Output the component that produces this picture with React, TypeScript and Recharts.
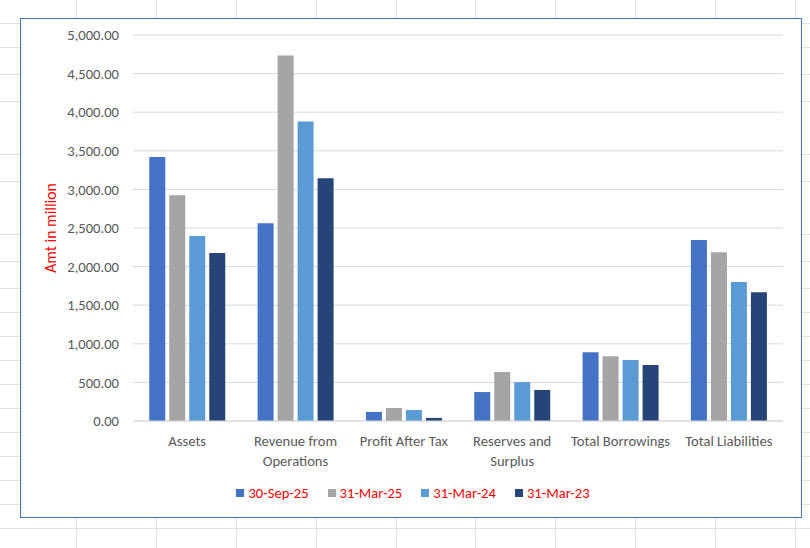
import React from "react";
import { BarChart, Bar, XAxis, YAxis, CartesianGrid, Legend, Label } from "recharts";

// Financial highlights by period (Amt in million)
const categories = [
  "Assets",
  "Revenue from Operations",
  "Profit After Tax",
  "Reserves and Surplus",
  "Total Borrowings",
  "Total Liabilities",
];
const sep25 = [3420, 2560, 118, 375, 892, 2345];
const mar25 = [2925, 4735, 168, 634, 840, 2185];
const mar24 = [2395, 3880, 142, 504, 790, 1800];
const mar23 = [2175, 3145, 40, 402, 724, 1668];
const yTicks = [0, 500, 1000, 1500, 2000, 2500, 3000, 3500, 4000, 4500, 5000];

const series = [
  { key: "30-Sep-25", values: sep25, color: "#4472C4" },
  { key: "31-Mar-25", values: mar25, color: "#A5A5A5" },
  { key: "31-Mar-24", values: mar24, color: "#5B9BD5" },
  { key: "31-Mar-23", values: mar23, color: "#264478" },
];

const data = categories.map((name, i) => {
  const row: Record<string, string | number> = { name };
  series.forEach((s) => {
    row[s.key] = s.values[i];
  });
  return row;
});

// worksheet cell borders behind the chart object
const sheetCols = [76, 156, 236, 316, 396, 475, 555, 635, 715, 795];
const sheetRows = [23, 47, 74, 101, 154, 181, 234, 261, 288, 312, 336, 360, 384, 408, 432, 456, 480, 504, 528];

const FONT = "Calibri, Carlito, Lato, 'Liberation Sans', sans-serif";

const fmt = (v: number) =>
  v.toLocaleString("en-US", { minimumFractionDigits: 2, maximumFractionDigits: 2 });

const wrapWords = (text: string, maxChars: number) => {
  const words = text.split(" ");
  const lines: string[] = [];
  let cur = "";
  words.forEach((w) => {
    const next = cur ? cur + " " + w : w;
    if (next.length > maxChars && cur) {
      lines.push(cur);
      cur = w;
    } else {
      cur = next;
    }
  });
  if (cur) lines.push(cur);
  return lines;
};

const CategoryTick = (props: any) => {
  const { x, y, payload } = props;
  const lines = wrapWords(String(payload.value), 17);
  return (
    <g transform={`translate(${x},${y})`}>
      {lines.map((ln, i) => (
        <text
          key={i}
          x={0}
          y={17 + i * 19.5}
          textAnchor="middle"
          fill="#595959"
          fontSize={14.6}
          fontFamily={FONT}
        >
          {ln}
        </text>
      ))}
    </g>
  );
};

const LegendContent = () => (
  <div
    style={{
      display: "flex",
      justifyContent: "center",
      alignItems: "center",
      paddingLeft: 22,
      fontFamily: FONT,
      fontSize: 14.6,
      color: "#FF0000",
    }}
  >
    {series.map((s) => (
      <div key={s.key} style={{ display: "flex", alignItems: "center", margin: "0 9.5px" }}>
        <span
          style={{
            display: "inline-block",
            width: 8,
            height: 8,
            background: s.color,
            marginRight: 4,
          }}
        />
        <span>{s.key}</span>
      </div>
    ))}
  </div>
);

export default function App() {
  return (
    <div
      style={{
        position: "absolute",
        left: 0,
        top: 0,
        width: 810,
        height: 548,
        background: "#FFFFFF",
        overflow: "hidden",
      }}
    >
      {sheetCols.map((x) => (
        <div
          key={"c" + x}
          style={{ position: "absolute", left: x, top: 0, width: 1, height: 548, background: "#E1E1E1" }}
        />
      ))}
      {sheetRows.map((y) => (
        <div
          key={"r" + y}
          style={{ position: "absolute", left: 0, top: y, width: 810, height: 1, background: "#E1E1E1" }}
        />
      ))}
      <div
        style={{
          position: "absolute",
          left: 20,
          top: 18,
          width: 780,
          height: 498,
          background: "#FFFFFF",
          border: "1px solid #4472C4",
        }}
      >
        <BarChart
          width={780}
          height={498}
          data={data}
          margin={{ top: 16, right: 18, bottom: 0, left: 0 }}
          barCategoryGap="15%"
          barGap={4}
        >
          <CartesianGrid vertical={false} stroke="#D9D9D9" strokeWidth={1} />
          <XAxis
            dataKey="name"
            tick={<CategoryTick />}
            tickLine={false}
            axisLine={{ stroke: "#D9D9D9" }}
            interval={0}
            height={63}
          />
          <YAxis
            width={112}
            domain={[0, 5000]}
            ticks={yTicks}
            tickFormatter={fmt}
            tick={{ fill: "#595959", fontSize: 14.6, fontFamily: FONT }}
            tickLine={false}
            axisLine={false}
            tickMargin={8}
          >
            <Label
              value="Amt in million"
              angle={-90}
              position="insideLeft"
              offset={29}
              style={{ fill: "#FF0000", fontSize: 15.8, fontFamily: FONT, textAnchor: "middle" }}
            />
          </YAxis>
          <Legend content={<LegendContent />} verticalAlign="bottom" height={33} />
          {series.map((s) => (
            <Bar key={s.key} dataKey={s.key} fill={s.color} isAnimationActive={false} />
          ))}
        </BarChart>
      </div>
    </div>
  );
}
